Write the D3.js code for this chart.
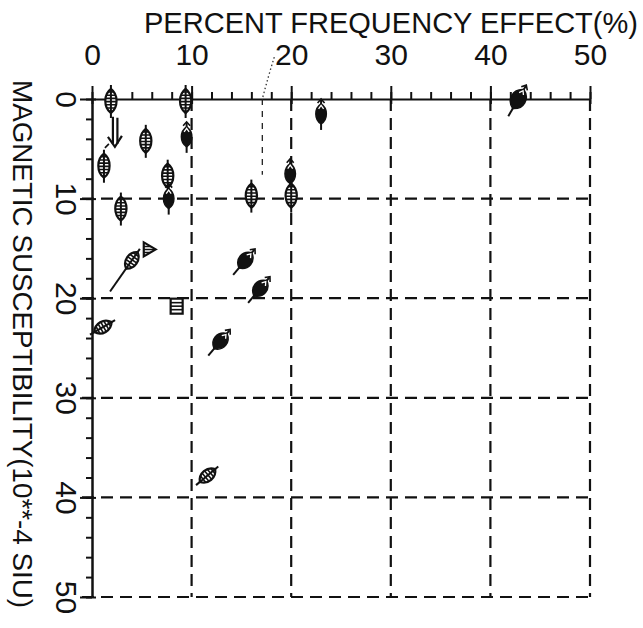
<!DOCTYPE html>
<html>
<head>
<meta charset="utf-8">
<script src="https://cdn.jsdelivr.net/npm/d3@7"></script>
<style>
  body { margin: 0; background: #fff; }
  text { font-family: "Liberation Sans", "DejaVu Sans", sans-serif; fill: #111; }
</style>
</head>
<body>
<div id="chart"></div>
<script>
// data: frequency effect (%) vs magnetic susceptibility (10**-4 SIU)
const freqEffect     = [1.9, 9.4, 2.3, 5.4, 9.5, 1.2, 7.6, 7.7, 16.0, 2.9, 23.0, 42.8, 19.9, 20.0, 4.0, 5.8, 15.4, 16.9, 8.5, 1.1, 12.9, 11.6];
const susceptibility = [0.2, 0.2, 3.5, 4.2, 3.8, 6.7, 7.7, 10.0, 9.7, 11.0, 1.5, 0.0, 7.5, 9.7, 16.2, 15.1, 16.2, 19.0, 20.8, 22.9, 24.3, 37.8];
const symbolKind     = ["leaf", "leaf", "arrow", "leaf", "solid", "leaf", "leaf", "solid", "leaf", "leaf", "solid", "solid", "solid", "leaf", "leafLong", "tri", "solid", "solid", "box", "leaf", "solid", "leaf"];
const orientation    = [0, 0, 0, 0, 0, 0, 0, 0, 0, 0, 0, 30, 0, 0, 35, 90, 40, 40, 0, 60, 40, 50];

const majorTicks = [0, 10, 20, 30, 40, 50];
const minorTicks = d3.range(0, 51, 2);

// the dotted curve + short dashed line near 17%
const markFreq = [18.3, 17.7, 17.1, 17.1];
const markSusc = [-4.2, -2.2, 0, 7.6];

const W = 643, H = 628;
const svg = d3.select("#chart").append("svg")
  .attr("width", W).attr("height", H);

const x = d3.scaleLinear().domain([0, 50]).range([92, 590]);
const y = d3.scaleLinear().domain([0, 50]).range([99, 597]);

// dashed grid
svg.append("g").selectAll("line")
  .data(majorTicks.slice(1)).enter()
  .append("line")
  .attr("x1", d => x(d)).attr("x2", d => x(d))
  .attr("y1", y(0)).attr("y2", y(50))
  .attr("stroke", "#111").attr("stroke-width", 2.2)
  .attr("stroke-dasharray", "12,7");

svg.append("g").selectAll("line")
  .data(majorTicks.slice(1)).enter()
  .append("line")
  .attr("x1", x(0) - 10).attr("x2", x(50))
  .attr("y1", d => y(d)).attr("y2", d => y(d))
  .attr("stroke", "#111").attr("stroke-width", 2.2)
  .attr("stroke-dasharray", "12,7");

// top axis
svg.append("g")
  .attr("transform", "translate(0," + y(0) + ")")
  .call(d3.axisTop(x).tickValues(minorTicks).tickSize(7).tickFormat("").tickSizeOuter(0))
  .call(g => g.select(".domain").attr("stroke-width", 2).attr("stroke", "#111"))
  .call(g => g.selectAll(".tick line").attr("stroke-width", 2).attr("stroke", "#111"));

const xMajor = svg.append("g")
  .attr("transform", "translate(0," + y(0) + ")")
  .call(d3.axisTop(x).tickValues(majorTicks).tickSize(13).tickPadding(21).tickSizeOuter(0));
xMajor.select(".domain").remove();
xMajor.selectAll(".tick line").attr("stroke-width", 2).attr("stroke", "#111").attr("y2", -13).attr("y1", 5);
xMajor.selectAll(".tick text").attr("font-size", 30).attr("fill", "#111");

// left axis
svg.append("g")
  .attr("transform", "translate(" + x(0) + ",0)")
  .call(d3.axisLeft(y).tickValues(minorTicks).tickSize(6).tickFormat("").tickSizeOuter(0))
  .call(g => g.select(".domain").attr("stroke-width", 2.5).attr("stroke", "#111"))
  .call(g => g.selectAll(".tick line").attr("stroke-width", 2).attr("stroke", "#111"));

const yMajor = svg.append("g")
  .attr("transform", "translate(" + x(0) + ",0)")
  .call(d3.axisLeft(y).tickValues(majorTicks).tickSize(12).tickSizeOuter(0));
yMajor.select(".domain").remove();
yMajor.selectAll(".tick line").attr("stroke-width", 2).attr("stroke", "#111").attr("x2", -12).attr("x1", 4);
yMajor.selectAll(".tick text")
  .attr("font-size", 30).attr("fill", "#111")
  .attr("text-anchor", "middle").attr("x", null).attr("dy", "0.35em")
  .attr("transform", "translate(-26,0) rotate(90)");

// axis titles
svg.append("text")
  .attr("x", 391).attr("y", 33)
  .attr("text-anchor", "middle")
  .attr("font-size", 29)
  .attr("textLength", 494).attr("lengthAdjust", "spacingAndGlyphs")
  .text("PERCENT FREQUENCY EFFECT(%)");

svg.append("text")
  .attr("transform", "translate(23,344) rotate(90)")
  .attr("text-anchor", "middle").attr("dy", "0.35em")
  .attr("font-size", 27.5)
  .attr("textLength", 528).attr("lengthAdjust", "spacingAndGlyphs")
  .text("MAGNETIC SUSCEPTIBILITY(10**-4 SIU)");

// the dotted arc and thin dashed line
const markPts = markFreq.map((f, i) => [x(f), y(markSusc[i])]);
svg.append("path")
  .attr("d", d3.line().curve(d3.curveNatural)(markPts.slice(0, 3)))
  .attr("fill", "none").attr("stroke", "#333").attr("stroke-width", 1.3)
  .attr("stroke-dasharray", "1.5,2.5");
svg.append("path")
  .attr("d", d3.line()(markPts.slice(2)))
  .attr("fill", "none").attr("stroke", "#222").attr("stroke-width", 1.3)
  .attr("stroke-dasharray", "6,6");

// markers
const pts = freqEffect.map((f, i) => ({
  f: f, s: susceptibility[i], kind: symbolKind[i], rot: orientation[i], id: i
}));

function lens(w, h) {
  return "M0," + (-h) + " C" + w + "," + (-h * 0.55) + " " + w + "," + (h * 0.55) + " 0," + h +
    " C" + (-w) + "," + (h * 0.55) + " " + (-w) + "," + (-h * 0.55) + " 0," + (-h) + "Z";
}

const defs = svg.append("defs");

const marks = svg.append("g").selectAll("g")
  .data(pts).enter()
  .append("g")
  .attr("transform", d => "translate(" + x(d.f) + "," + y(d.s) + ") rotate(" + d.rot + ")");

marks.each(function(d) {
  const g = d3.select(this);
  if (d.kind === "leaf" || d.kind === "leafLong") {
    const w = 7.5, h = d.rot ? 10 : 12;
    const tail = d.kind === "leafLong" ? 28 : 5;
    defs.append("clipPath").attr("id", "clip" + d.id)
      .append("path").attr("d", lens(w, h));
    g.append("line").attr("x1", 0).attr("x2", 0).attr("y1", -h - 4).attr("y2", h + tail)
      .attr("stroke", "#111").attr("stroke-width", 2);
    g.append("path").attr("d", lens(w, h))
      .attr("fill", "#fff").attr("stroke", "#111").attr("stroke-width", 2.2);
    const hatch = g.append("g").attr("clip-path", "url(#clip" + d.id + ")");
    d3.range(-h + 3, h, 3.2).forEach(v => {
      hatch.append("line").attr("x1", -w).attr("x2", w).attr("y1", v).attr("y2", v)
        .attr("stroke", "#111").attr("stroke-width", 1.6);
    });
    g.append("line").attr("x1", 0).attr("x2", 0).attr("y1", -h).attr("y2", h)
      .attr("stroke", "#111").attr("stroke-width", 2);
  } else if (d.kind === "solid") {
    const big = d.f > 40;
    const w = d.rot ? (big ? 10 : 9) : 7, h = d.rot ? (big ? 11 : 10) : 10;
    g.append("line").attr("x1", 0).attr("x2", 0).attr("y1", -h - 4).attr("y2", h + (d.rot ? 9 : 6))
      .attr("stroke", "#111").attr("stroke-width", 2);
    g.append("path").attr("d", lens(w, h)).attr("fill", "#111").attr("stroke", "#111").attr("stroke-width", 1.5);
    // small white notch near the tip
    g.append("path").attr("d", "M-2.5," + (-h + 5) + " L0," + (-h + 1.5) + " L2.5," + (-h + 5))
      .attr("fill", "none").attr("stroke", "#fff").attr("stroke-width", 1.3);
    g.append("path").attr("d", "M-3.5," + (-h - 1) + " L0," + (-h - 5) + " L3.5," + (-h - 1))
      .attr("fill", "none").attr("stroke", "#111").attr("stroke-width", 1.6);
  } else if (d.kind === "arrow") {
    g.append("path").attr("d", "M-2,-17 L-2,10 M2.5,-16 L2.5,10")
      .attr("stroke", "#111").attr("stroke-width", 2.2).attr("fill", "none");
    g.append("path").attr("d", "M-7,3 L0,13 L7,2")
      .attr("stroke", "#111").attr("stroke-width", 2.2).attr("fill", "none");
    g.append("path").attr("d", "M-6,10 L-10,14")
      .attr("stroke", "#111").attr("stroke-width", 1.6).attr("fill", "none");
  } else if (d.kind === "tri") {
    const tri = "M0,-6 L7,6 L-7,6 Z";
    defs.append("clipPath").attr("id", "clip" + d.id).append("path").attr("d", tri);
    g.append("path").attr("d", tri).attr("fill", "#fff").attr("stroke", "#111").attr("stroke-width", 2.2);
    const hatch = g.append("g").attr("clip-path", "url(#clip" + d.id + ")");
    [-3, 0, 3].forEach(v => hatch.append("line").attr("x1", v).attr("x2", v).attr("y1", -7).attr("y2", 7)
      .attr("stroke", "#111").attr("stroke-width", 1.5));
  } else if (d.kind === "box") {
    g.append("rect").attr("x", -6).attr("y", -7.5).attr("width", 12).attr("height", 15)
      .attr("fill", "#fff").attr("stroke", "#111").attr("stroke-width", 2.2);
    [-3.5, 0, 3.5].forEach(v => g.append("line").attr("x1", -6).attr("x2", 6).attr("y1", v).attr("y2", v)
      .attr("stroke", "#111").attr("stroke-width", 1.6));
  }
});
</script>
</body>
</html>
